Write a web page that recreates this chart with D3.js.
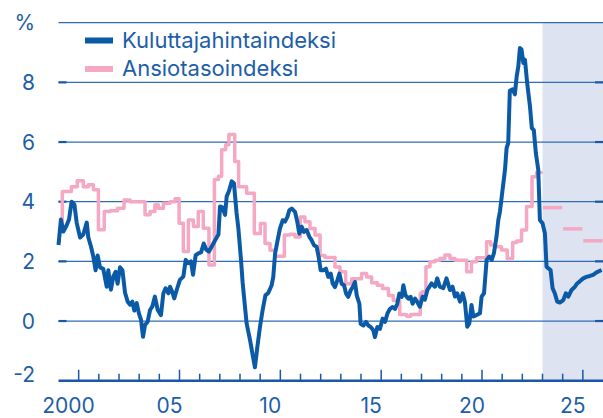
<!DOCTYPE html>
<html>
<head>
<meta charset="utf-8">
<script src="https://cdn.jsdelivr.net/npm/d3@7"></script>
<style>
  body { margin: 0; background: #fff; }
  svg { display: block; font-family: "Inter", "Roboto", sans-serif; }
</style>
</head>
<body>
<script>
// Kuluttajahintaindeksi, year (decimal) and % change
var khiSeries = [
  [2000.00,2.55],[2000.12,3.4],[2000.24,3.0],[2000.40,3.2],[2000.52,3.4],[2000.65,4.0],[2000.79,3.9],[2000.90,3.3],
  [2001.07,2.8],[2001.23,2.9],[2001.40,3.3],[2001.48,2.8],[2001.61,2.5],[2001.73,2.15],[2001.84,1.7],[2001.94,2.2],
  [2002.06,1.8],[2002.22,1.75],[2002.39,1.15],[2002.47,1.7],[2002.60,1.05],[2002.72,1.5],[2002.83,1.65],[2002.93,1.25],
  [2003.05,1.8],[2003.17,1.7],[2003.30,0.95],[2003.43,0.65],[2003.55,0.55],[2003.66,0.65],[2003.76,0.35],[2003.88,0.6],
  [2003.99,0.25],[2004.09,0.05],[2004.19,-0.53],[2004.29,-0.13],[2004.42,-0.02],[2004.54,0.37],[2004.65,0.48],[2004.78,0.82],
  [2004.92,0.37],[2005.08,0.2],[2005.20,0.93],[2005.31,1.1],[2005.45,0.93],[2005.53,1.15],[2005.64,0.98],[2005.74,0.76],
  [2005.86,1.04],[2006.02,1.38],[2006.19,1.49],[2006.31,2.05],[2006.44,1.94],[2006.57,2.0],[2006.67,1.55],[2006.80,2.2],
  [2006.93,2.27],[2007.07,2.3],[2007.20,2.6],[2007.33,2.39],[2007.46,2.33],[2007.60,2.5],[2007.76,2.7],[2007.93,2.9],
  [2008.01,3.84],[2008.12,3.82],[2008.26,3.56],[2008.34,4.18],[2008.45,4.35],[2008.59,4.68],[2008.70,4.62],[2008.83,3.62],
  [2008.92,3.1],[2009.05,2.05],[2009.13,1.3],[2009.20,0.8],[2009.33,-0.09],[2009.50,-0.65],[2009.74,-1.55],[2009.86,-0.87],
  [2009.99,-0.2],[2010.12,0.36],[2010.26,0.86],[2010.40,0.94],[2010.57,1.2],[2010.65,1.48],[2010.74,2.26],[2010.85,2.65],
  [2010.98,3.1],[2011.12,3.38],[2011.23,3.33],[2011.35,3.49],[2011.45,3.72],[2011.56,3.77],[2011.73,3.66],[2011.84,3.33],
  [2011.94,2.93],[2012.06,3.16],[2012.17,2.99],[2012.31,3.05],[2012.44,2.82],[2012.55,2.71],[2012.67,2.54],[2012.80,2.49],
  [2012.90,2.15],[2013.00,1.7],[2013.13,1.7],[2013.26,1.76],[2013.38,1.48],[2013.50,1.59],[2013.60,1.25],[2013.71,1.14],
  [2013.83,1.37],[2013.93,1.59],[2014.04,1.25],[2014.16,1.2],[2014.26,0.92],[2014.37,0.81],[2014.49,1.03],[2014.59,1.14],
  [2014.70,1.31],[2014.79,0.86],[2014.92,0.58],[2014.98,-0.09],[2015.12,-0.15],[2015.25,-0.03],[2015.36,-0.15],[2015.48,-0.2],
  [2015.61,-0.31],[2015.69,-0.54],[2015.81,-0.2],[2015.94,-0.26],[2016.07,0.08],[2016.19,-0.03],[2016.31,0.25],[2016.44,0.41],
  [2016.57,0.47],[2016.69,0.41],[2016.80,0.58],[2016.90,0.92],[2017.02,0.81],[2017.10,1.2],[2017.21,0.86],[2017.35,0.75],
  [2017.46,0.81],[2017.56,0.58],[2017.68,0.75],[2017.79,0.64],[2017.92,0.48],[2018.06,0.82],[2018.17,0.72],[2018.29,1.04],
  [2018.50,1.26],[2018.67,1.15],[2018.78,1.43],[2018.91,1.15],[2019.08,1.1],[2019.24,1.43],[2019.41,1.04],[2019.54,1.15],
  [2019.66,0.82],[2019.77,0.93],[2019.91,0.65],[2020.04,0.93],[2020.15,0.65],[2020.27,-0.19],[2020.37,-0.08],[2020.48,0.54],
  [2020.57,0.15],[2020.73,0.2],[2020.90,0.26],[2020.98,0.82],[2021.10,0.93],[2021.23,2.05],[2021.36,2.16],[2021.48,2.05],
  [2021.59,2.27],[2021.72,2.83],[2021.81,3.39],[2021.89,3.67],[2022.02,4.4],[2022.14,5.07],[2022.22,5.8],[2022.30,5.96],
  [2022.38,7.72],[2022.52,7.77],[2022.63,7.6],[2022.72,8.2],[2022.80,8.53],[2022.88,9.15],[2022.96,9.1],[2023.05,8.65],
  [2023.13,8.76],[2023.24,7.98],[2023.38,7.19],[2023.47,6.47],[2023.57,6.4],[2023.67,5.63],[2023.79,5.07],[2023.87,3.39],
  [2024.00,3.28],[2024.12,2.94],[2024.20,1.82],[2024.28,1.77],[2024.40,1.71],[2024.50,1.1],[2024.61,0.93],[2024.73,0.65],
  [2024.86,0.62],[2025.03,0.7],[2025.16,0.93],[2025.28,0.82],[2025.44,1.04],[2025.61,1.15],[2025.72,1.26],[2025.85,1.33],
  [2026.02,1.43],[2026.18,1.48],[2026.35,1.51],[2026.51,1.55],[2026.68,1.63],[2026.93,1.71]
];

// Ansiotasoindeksi, step start (decimal year) and % change
var ansioSeries = [
  [2000.00,3.06],[2000.19,4.34],[2000.64,4.5],[2000.93,4.7],[2001.23,4.5],[2001.48,4.57],[2001.73,4.4],[2001.98,3.06],
  [2002.27,3.67],[2002.55,3.7],[2002.93,3.78],[2003.25,4.06],[2003.55,4.0],[2004.29,3.56],[2004.54,3.67],[2004.78,3.9],
  [2004.95,3.78],[2005.20,3.95],[2005.53,4.0],[2005.78,4.1],[2005.98,3.28],[2006.19,2.33],[2006.44,3.39],[2006.69,3.17],
  [2006.93,3.67],[2007.18,3.11],[2007.46,1.88],[2007.73,4.74],[2007.93,4.85],[2008.09,5.74],[2008.29,5.91],[2008.45,6.25],
  [2008.74,5.35],[2008.93,4.5],[2009.33,4.28],[2009.71,2.93],[2010.01,3.27],[2010.24,2.6],[2010.49,2.37],[2010.74,2.17],
  [2011.20,2.88],[2011.48,2.91],[2011.73,2.82],[2011.99,3.49],[2012.22,3.33],[2012.47,3.1],[2012.72,2.88],[2012.97,2.2],
  [2013.21,2.13],[2013.71,1.81],[2013.96,1.65],[2014.24,1.25],[2014.54,1.42],[2015.03,1.59],[2015.28,1.48],[2015.53,1.28],
  [2015.81,1.2],[2016.07,1.09],[2016.36,0.86],[2016.60,0.69],[2016.92,0.22],[2017.26,0.16],[2017.46,0.22],[2017.94,0.92],
  [2018.03,0.98],[2018.22,1.82],[2018.42,1.99],[2018.67,2.04],[2018.91,2.1],[2019.16,2.21],[2019.41,2.1],[2019.66,2.04],
  [2020.24,1.65],[2020.48,1.99],[2020.73,2.12],[2021.23,2.66],[2021.43,2.55],[2021.69,2.49],[2021.97,2.38],[2022.25,2.1],
  [2022.52,2.63],[2022.72,2.68],[2022.96,3.05],[2023.21,3.84],[2023.48,4.84],[2023.71,4.98],[2023.93,5.02]
];

// Ansiotasoindeksi forecast, annual
var forecastYears = [2024, 2025, 2026];
var forecastValues = [3.80, 3.09, 2.69];
var forecastStart = 2024;

// Axis ticks and labels
var yTicks = [-2, 0, 2, 4, 6, 8, 10];
var yTickLabels = ["-2", "0", "2", "4", "6", "8", "%"];
var xLabelYears = [2000, 2005, 2010, 2015, 2020, 2025];
var xLabelTexts = ["2000", "05", "10", "15", "20", "25"];
var xYearTicks = d3.range(2001, 2027);

var legendNames = ["Kuluttajahintaindeksi", "Ansiotasoindeksi"];

function drawChart() {
  var w = 603;
  var h = 418;
  var left = 58.5;
  var right = 603;
  var top = 22.7;
  var bottom = 380.7;

  var blue = "#0b5aa8";
  var pink = "#f4a8c4";
  var textBlue = "#1d5ea9";
  var gridBlue = "#2f6db4";

  var xScale = d3.scaleLinear()
                 .domain([2000, 2027])
                 .range([left, right]);
  var yScale = d3.scaleLinear()
                 .domain([-2, 10])
                 .range([bottom, top]);

  var svg = d3.select("body")
              .append("svg")
              .attr("width", w)
              .attr("height", h);

  // forecast shade
  svg.append("rect")
     .attr("x", xScale(forecastStart))
     .attr("y", yScale(10))
     .attr("width", xScale(2027) - xScale(forecastStart))
     .attr("height", yScale(-2) - yScale(10))
     .attr("fill", "#dee3f1");

  // gridlines
  svg.selectAll("line.grid")
     .data(yTicks.filter(d => d > -2))
     .enter()
     .append("line")
     .attr("class", "grid")
     .attr("x1", left)
     .attr("x2", right)
     .attr("y1", d => yScale(d))
     .attr("y2", d => yScale(d))
     .attr("stroke", gridBlue)
     .attr("stroke-width", 1.3);

  // little tick stubs at both ends
  [left, right - 8].forEach(function(x0) {
    svg.selectAll(null)
       .data(yTicks.filter(d => d > -2 && d < 10))
       .enter()
       .append("line")
       .attr("x1", x0)
       .attr("x2", x0 + 8)
       .attr("y1", d => yScale(d))
       .attr("y2", d => yScale(d))
       .attr("stroke", "#1858a6")
       .attr("stroke-width", 2.2);
  });

  // y labels (the lowest one sits a bit above the axis)
  svg.selectAll("text.ylab")
     .data(yTicks)
     .enter()
     .append("text")
     .attr("class", "ylab")
     .attr("x", 35)
     .attr("y", d => d === -2 ? yScale(d) - 6 : yScale(d))
     .attr("dy", "0.36em")
     .attr("text-anchor", "end")
     .attr("font-size", "21px")
     .attr("fill", textBlue)
     .text((d, i) => yTickLabels[i]);

  // Ansiotasoindeksi as steps
  var stepLine = d3.line()
                   .x(d => xScale(d[0]))
                   .y(d => yScale(d[1]))
                   .curve(d3.curveStepAfter);
  svg.append("path")
     .datum(ansioSeries)
     .attr("d", stepLine)
     .attr("fill", "none")
     .attr("stroke", pink)
     .attr("stroke-width", 3.5)
     .attr("stroke-linejoin", "round");

  // forecast dashes
  svg.selectAll("line.fc")
     .data(forecastYears)
     .enter()
     .append("line")
     .attr("class", "fc")
     .attr("x1", d => xScale(d + 0.02))
     .attr("x2", d => xScale(d + 0.98))
     .attr("y1", (d, i) => yScale(forecastValues[i]))
     .attr("y2", (d, i) => yScale(forecastValues[i]))
     .attr("stroke", pink)
     .attr("stroke-width", 3.5);

  // Kuluttajahintaindeksi
  var line = d3.line()
               .x(d => xScale(d[0]))
               .y(d => yScale(d[1]));
  svg.append("path")
     .datum(khiSeries)
     .attr("d", line)
     .attr("fill", "none")
     .attr("stroke", blue)
     .attr("stroke-width", 4)
     .attr("stroke-linejoin", "round");

  // bottom axis with year ticks
  var g = svg.append("g");
  g.selectAll("line")
   .data(xYearTicks)
   .enter()
   .append("line")
   .attr("x1", d => xScale(d))
   .attr("x2", d => xScale(d))
   .attr("y1", d => (d - 2001) % 5 === 0 ? bottom - 11 : bottom - 7)
   .attr("y2", bottom)
   .attr("stroke", "#1858a6")
   .attr("stroke-width", 1.5);
  g.append("line")
   .attr("x1", left)
   .attr("x2", right)
   .attr("y1", bottom)
   .attr("y2", bottom)
   .attr("stroke", "#1858a6")
   .attr("stroke-width", 2.5);

  svg.selectAll("text.xlab")
     .data(xLabelYears)
     .enter()
     .append("text")
     .attr("class", "xlab")
     .attr("x", d => xScale(d + 0.5))
     .attr("y", 413)
     .attr("text-anchor", "middle")
     .attr("font-size", "21px")
     .attr("fill", textBlue)
     .text((d, i) => xLabelTexts[i]);

  // legend
  var legendColors = [blue, pink];
  var lg = svg.selectAll("g.legend")
              .data(legendNames)
              .enter()
              .append("g")
              .attr("class", "legend")
              .attr("transform", (d, i) => "translate(85," + (40.5 + i * 28.5) + ")");
  lg.append("rect")
    .attr("x", 0)
    .attr("y", -3)
    .attr("width", 28)
    .attr("height", 6)
    .attr("fill", (d, i) => legendColors[i]);
  lg.append("text")
    .attr("x", 37)
    .attr("y", 7.3)
    .attr("font-size", "22px")
    .attr("fill", textBlue)
    .text(d => d);
}

function main() {
  drawChart();
}

window.onload = function() {
  main();
};
</script>
</body>
</html>
